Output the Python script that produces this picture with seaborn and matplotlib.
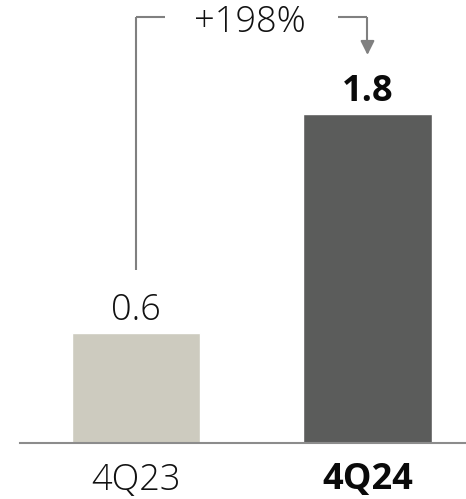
import matplotlib
matplotlib.use("Agg")
import matplotlib.pyplot as plt
import seaborn as sns
import pandas as pd

# Quarterly values
quarters = ["4Q23", "4Q24"]
values = [0.6, 1.8]
value_labels = ["0.6", "1.8"]
growth_label = "+198%"
bar_colors = ["#CDCBBF", "#5B5C5B"]

sns.set_theme(style="white")
plt.rcParams["font.family"] = ["Open Sans", "DejaVu Sans"]

df = pd.DataFrame({"quarter": quarters, "value": values})

fig = plt.figure(figsize=(4.66, 4.99), dpi=100)
ax = fig.add_axes([20 / 466, (499 - 443) / 499, 446 / 466, 443 / 499])

sns.barplot(data=df, x="quarter", y="value", hue="quarter",
            palette=bar_colors, width=0.553, legend=False, ax=ax,
            saturation=1)

ax.set_xlim(-0.501, 1.4255)
ax.set_ylim(0, 2.427)
ax.set_xlabel("")
ax.set_ylabel("")
ax.set_yticks([])
for s in ["top", "left", "right"]:
    ax.spines[s].set_visible(False)
ax.spines["bottom"].set_color("#8C8C8C")
ax.spines["bottom"].set_linewidth(1.5)
ax.tick_params(axis="x", length=0, pad=14, labelsize=26, labelcolor="#111111")
for i, lab in enumerate(ax.get_xticklabels()):
    if i == 1:
        lab.set_fontweight("bold")
        lab.set_color("#0A0A0A")
    else:
        lab.set_fontweight("light")

# value labels above bars
for i, (v, t) in enumerate(zip(values, value_labels)):
    ax.text(i, v + 0.075, t, ha="center", va="baseline", fontsize=26,
            fontweight="bold" if i == 1 else "light",
            color="#0A0A0A" if i == 1 else "#111111")

# growth bracket from first bar to second bar
line_kw = dict(color="#808080", lw=1.5, solid_capstyle="butt")
top = 2.334
ax.plot([0, 0], [0.948, top], **line_kw)
ax.plot([0, 0.125], [top, top], **line_kw)
ax.plot([0.873, 1.0], [top, top], **line_kw)
ax.plot([1.0, 1.0], [top, 2.19], **line_kw)
ax.annotate("", xy=(1.0, 2.126), xytext=(1.0, 2.20),
            arrowprops=dict(arrowstyle="-|>,head_length=0.7,head_width=0.35",
                            color="#808080", lw=1.5, shrinkA=0, shrinkB=0))
ax.text(0.49, 2.252, growth_label, ha="center", va="baseline",
        fontsize=26, fontweight="light", color="#111111")

fig.savefig("out.png", dpi=100)
